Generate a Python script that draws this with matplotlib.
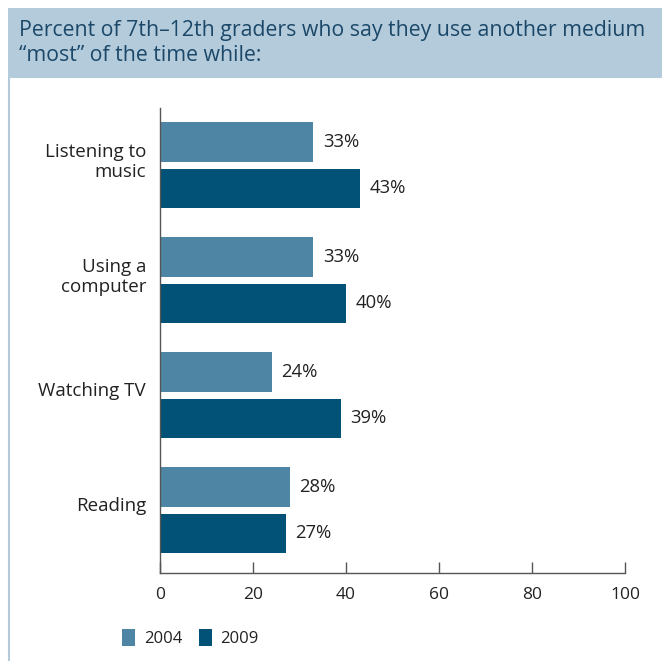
import matplotlib
matplotlib.use("Agg")
import matplotlib.pyplot as plt
import matplotlib.transforms as mtransforms
from matplotlib.patches import Rectangle
import numpy as np

categories = ["Listening to\nmusic", "Using a\ncomputer", "Watching TV", "Reading"]
values_2004 = [33, 33, 24, 28]
values_2009 = [43, 40, 39, 27]
series_labels = ["2004", "2009"]
xticks = [0, 20, 40, 60, 80, 100]
title = "Percent of 7th\u201312th graders who say they use another medium\n\u201cmost\u201d of the time while:"

c2004 = "#4f85a4"
c2009 = "#015276"
text_c = "#222222"
font = "Open Sans"

fig = plt.figure(figsize=(6.62, 6.61), dpi=100)
W, H = 662, 661

# title box and frame line
fig.patches.append(Rectangle((8 / W, 1 - 78 / H), 1, 70 / H, transform=fig.transFigure,
                             facecolor="#b4cbdc", edgecolor="none", zorder=0))
fig.add_artist(plt.Line2D([8.5 / W, 8.5 / W], [0, 1 - 78 / H], transform=fig.transFigure,
                          color="#b4cbdc", lw=1.5))
fig.text(19 / W, 1 - 20 / H, title, ha="left", va="top", fontsize=15.3, color="#1b4868",
         family=font, linespacing=1.25)

ax = fig.add_axes([160 / W, 1 - 573 / H, 465 / W, 465 / H])
pos = np.arange(len(categories)) * 1.0
h = 0.345
off = 0.203
ax.barh(pos - off, values_2004, height=h, color=c2004, label=series_labels[0])
ax.barh(pos + off, values_2009, height=h, color=c2009, label=series_labels[1])
for p, v in zip(pos - off, values_2004):
    ax.text(v + 2.0, p, f"{v}%", va="center", ha="left", fontsize=13.3, color=text_c, family=font)
for p, v in zip(pos + off, values_2009):
    ax.text(v + 2.0, p, f"{v}%", va="center", ha="left", fontsize=13.3, color=text_c, family=font)

ax.set_xlim(0, 100)
ax.set_ylim(3.547, -0.496)
ax.set_yticks(pos)
ax.set_yticklabels(categories, fontsize=13.5, color=text_c, family=font, linespacing=1.15)
ax.tick_params(axis="y", length=0, pad=10)
shift = mtransforms.ScaledTranslation(0, 6 / 100, fig.dpi_scale_trans)
for lbl in ax.get_yticklabels():
    lbl.set_transform(lbl.get_transform() + shift)
ax.set_xticks(xticks)
ax.set_xticklabels([str(t) for t in xticks], fontsize=12.5, color=text_c, family=font)
ax.tick_params(axis="x", direction="in", length=8, width=1, color="#555555", pad=10)
for s in ["top", "right"]:
    ax.spines[s].set_visible(False)
for s in ["left", "bottom"]:
    ax.spines[s].set_color("#555555")
    ax.spines[s].set_linewidth(1)

leg = fig.legend(loc="lower left", bbox_to_anchor=(107 / W, 1 - 662 / H), ncol=2, frameon=False,
                 prop={"family": font, "size": 12}, handlelength=0.8, handleheight=1.2,
                 columnspacing=1.0, handletextpad=0.5)
for t in leg.get_texts():
    t.set_color(text_c)

fig.savefig("out.png", dpi=100)
